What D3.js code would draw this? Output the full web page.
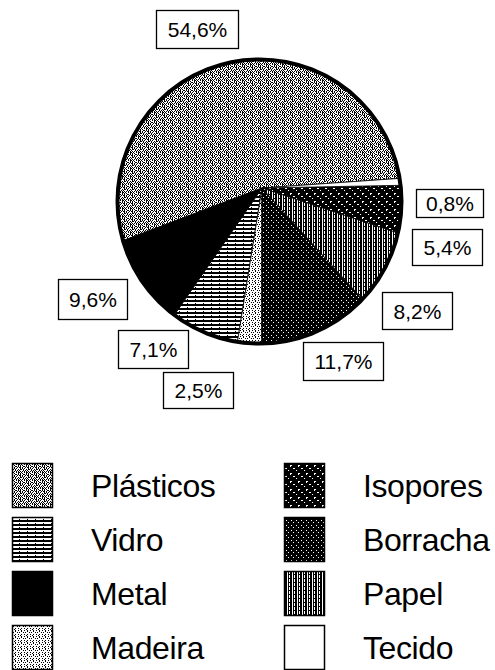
<!DOCTYPE html>
<html>
<head>
<meta charset="utf-8">
<script src="https://cdn.jsdelivr.net/npm/d3@7"></script>
<style>
  html, body { margin: 0; padding: 0; background: #fff; }
  svg { display: block; }
  text { font-family: "Liberation Sans", Arial, Helvetica, sans-serif; fill: #000; }
</style>
</head>
<body>
<script>
// ---- data ----
const categories = ["Plásticos", "Vidro", "Metal", "Madeira", "Isopores", "Borracha", "Papel", "Tecido"];
const values     = [54.6, 7.1, 9.6, 2.5, 5.4, 11.7, 8.2, 0.8];
// clockwise drawing order of the slices, starting at the right
const pieOrder   = ["Tecido", "Isopores", "Papel", "Borracha", "Madeira", "Vidro", "Metal", "Plásticos"];
const legendLeft  = ["Plásticos", "Vidro", "Metal", "Madeira"];
const legendRight = ["Isopores", "Borracha", "Papel", "Tecido"];

// ---- layout (not data) ----
const W = 495, H = 670;
const cx = 259.5, cy = 201.5, R = 142;
const apex = { x: 262, y: 188 };
const startDeg = 86;
const labelBoxes = {
  "Plásticos": [156, 10, 82, 38],
  "Tecido":    [416, 189, 67, 28],
  "Isopores":  [412, 229, 70, 36],
  "Papel":     [382, 292, 70, 37],
  "Borracha":  [303, 342, 80, 38],
  "Madeira":   [163, 372, 70, 36],
  "Vidro":     [118, 330, 70, 38],
  "Metal":     [58, 279, 69, 40]
};

// texture tiles ('#' = black pixel)
const patterns = {
  "Plásticos": ["#.##.#..", "..#.#.#.", "#.#.#..#", ".#.##.#.", "#...#.#.", "..#.##.#", ".#.#...#", "#.#.#.#."],
  "Vidro":     ["########", "########", "........", "...#...."],
  "Metal":     ["#"],
  "Madeira":   ["#..#..", "...#..", ".#...#", "......", "#..#..", "..#..."],
  "Isopores":  ["########", "##..####", "##.#####", "########", "#####..#", "########", ".#######", "########"],
  "Borracha":  ["#.###", "#####", "###.#", "#####", "#####"],
  "Papel":     ["##.#.", "##.#.", "##.##", "##.#."],
  "Tecido":    ["."]
};

const data = categories.map((c, i) => ({ cat: c, value: values[i] }));
const fmt = v => v.toFixed(1).replace(".", ",") + "%";

const svg = d3.select("body").append("svg").attr("width", W).attr("height", H);
const defs = svg.append("defs");

categories.forEach((c, i) => {
  const rows = patterns[c];
  const h = rows.length, w = rows[0].length;
  const p = defs.append("pattern").attr("id", "pat" + i)
    .attr("patternUnits", "userSpaceOnUse").attr("width", w).attr("height", h);
  p.append("rect").attr("width", w).attr("height", h).attr("fill", "#fff");
  rows.forEach((row, y) => {
    row.split("").forEach((ch, x) => {
      if (ch === "#") p.append("rect").attr("x", x).attr("y", y).attr("width", 1).attr("height", 1).attr("fill", "#000");
    });
  });
});
const fillOf = c => "url(#pat" + categories.indexOf(c) + ")";

// ---- pie ----
const pie = d3.pie()
  .value(d => d.value)
  .sort((a, b) => pieOrder.indexOf(a.cat) - pieOrder.indexOf(b.cat))
  .startAngle(startDeg * Math.PI / 180)
  .endAngle(startDeg * Math.PI / 180 + 2 * Math.PI);
const arcs = pie(data);

function rayPoint(theta) {
  const dx = Math.sin(theta), dy = -Math.cos(theta);
  const ox = apex.x - cx, oy = apex.y - cy;
  const b = ox * dx + oy * dy;
  const cc = ox * ox + oy * oy - R * R;
  const t = -b + Math.sqrt(b * b - cc);
  const px = ox + t * dx, py = oy + t * dy;
  return { x: cx + px, y: cy + py, phi: Math.atan2(py, px) };
}
function slicePath(a) {
  const p0 = rayPoint(a.startAngle), p1 = rayPoint(a.endAngle);
  let phi1 = p1.phi;
  while (phi1 <= p0.phi) phi1 += 2 * Math.PI;
  const path = d3.path();
  path.moveTo(apex.x, apex.y);
  path.lineTo(p0.x, p0.y);
  path.arc(cx, cy, R, p0.phi, phi1, false);
  path.closePath();
  return path.toString();
}

svg.append("g").selectAll("path").data(arcs).join("path")
  .attr("d", slicePath)
  .attr("fill", d => fillOf(d.data.cat))
  .attr("stroke", "#000").attr("stroke-width", 0.8).attr("stroke-linejoin", "round");

svg.append("circle").attr("cx", cx).attr("cy", cy).attr("r", R)
  .attr("fill", "none").attr("stroke", "#000").attr("stroke-width", 4);

// ---- value labels ----
const lg = svg.append("g");
data.forEach(d => {
  const [x, y, w, h] = labelBoxes[d.cat];
  lg.append("rect").attr("x", x + 0.5).attr("y", y + 0.5).attr("width", w).attr("height", h)
    .attr("fill", "#fff").attr("stroke", "#000").attr("stroke-width", 1.3);
  lg.append("text").attr("x", x + w / 2 + 0.5).attr("y", y + h / 2 + 8)
    .attr("text-anchor", "middle").attr("font-size", 21).text(fmt(d.value));
});

// ---- legend ----
const rowTop = [463, 517, 571, 625];
const legend = svg.append("g");
function drawLegendCol(names, sx, tx) {
  names.forEach((c, i) => {
    legend.append("rect").attr("x", sx + 0.5).attr("y", rowTop[i] + 0.5).attr("width", 40).attr("height", 44)
      .attr("fill", fillOf(c)).attr("stroke", "#000").attr("stroke-width", 1.5);
    legend.append("text").attr("x", tx).attr("y", rowTop[i] + 34)
      .attr("font-size", 32).attr("letter-spacing", -0.4).text(c);
  });
}
drawLegendCol(legendLeft, 12, 91);
drawLegendCol(legendRight, 284, 363);
</script>
</body>
</html>
